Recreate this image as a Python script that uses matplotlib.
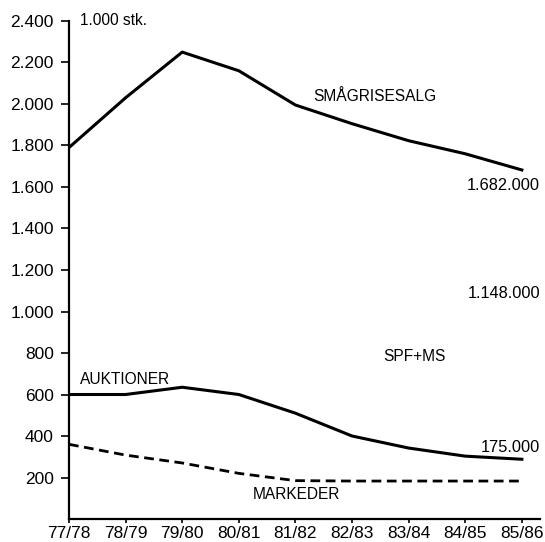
import matplotlib.pyplot as plt
import numpy as np

plt.rcParams['font.family'] = ['Liberation Sans', 'DejaVu Sans']

seasons = ['77/78', '78/79', '79/80', '80/81', '81/82', '82/83', '83/84', '84/85', '85/86']
smaagrise = [1790, 2030, 2250, 2160, 1995, 1905, 1823, 1760, 1682]
auktioner = [600, 600, 635, 600, 510, 400, 342, 303, 288]
markeder = [360, 308, 270, 220, 185, 183, 183, 183, 183]

yticks = [200, 400, 600, 800, 1000, 1200, 1400, 1600, 1800, 2000, 2200, 2400]
ylabels = ['200', '400', '600', '800', '1.000', '1.200', '1.400', '1.600',
           '1.800', '2.000', '2.200', '2.400']

fig = plt.figure(figsize=(5.45, 5.42), dpi=100)
ax = fig.add_axes([0.1266, 0.0424, 0.8642, 0.9189])

x = np.arange(len(seasons))
ax.plot(x, smaagrise, color='black', lw=2.2, solid_joinstyle='round')
ax.plot(x, auktioner, color='black', lw=2.2, solid_joinstyle='round')
ax.plot(x, markeder, color='black', lw=2.0, ls=(0, (3.5, 2)))

ax.set_xlim(0, 8.32)
ax.set_ylim(0, 2400)
ax.set_xticks(x)
ax.set_xticklabels(seasons, fontsize=12.5)
ax.set_yticks(yticks)
ax.set_yticklabels(ylabels, fontsize=12.5)
ax.tick_params(axis='y', direction='out', length=6, width=1.2, pad=5)
ax.tick_params(axis='x', direction='out', length=3, width=1.2, pad=2)

for side in ['top', 'right']:
    ax.spines[side].set_visible(False)
for side in ['left', 'bottom']:
    ax.spines[side].set_linewidth(1.6)

ax.text(0.19, 2400, '1.000 stk.', fontsize=11.2, va='center', ha='left')
ax.text(4.31, 2034, 'SMÅGRISESALG', fontsize=11.2, va='center', ha='left')
ax.text(8.32, 1606, '1.682.000', fontsize=11.8, va='center', ha='right')
ax.text(8.32, 1087, '1.148.000', fontsize=11.8, va='center', ha='right')
ax.text(5.55, 784, 'SPF+MS', fontsize=11.2, va='center', ha='left')
ax.text(0.19, 673, 'AUKTIONER', fontsize=11.2, va='center', ha='left')
ax.text(8.32, 346, '175.000', fontsize=11.8, va='center', ha='right')
ax.text(3.25, 120, 'MARKEDER', fontsize=11.2, va='center', ha='left')

fig.savefig('out.png', dpi=100)
